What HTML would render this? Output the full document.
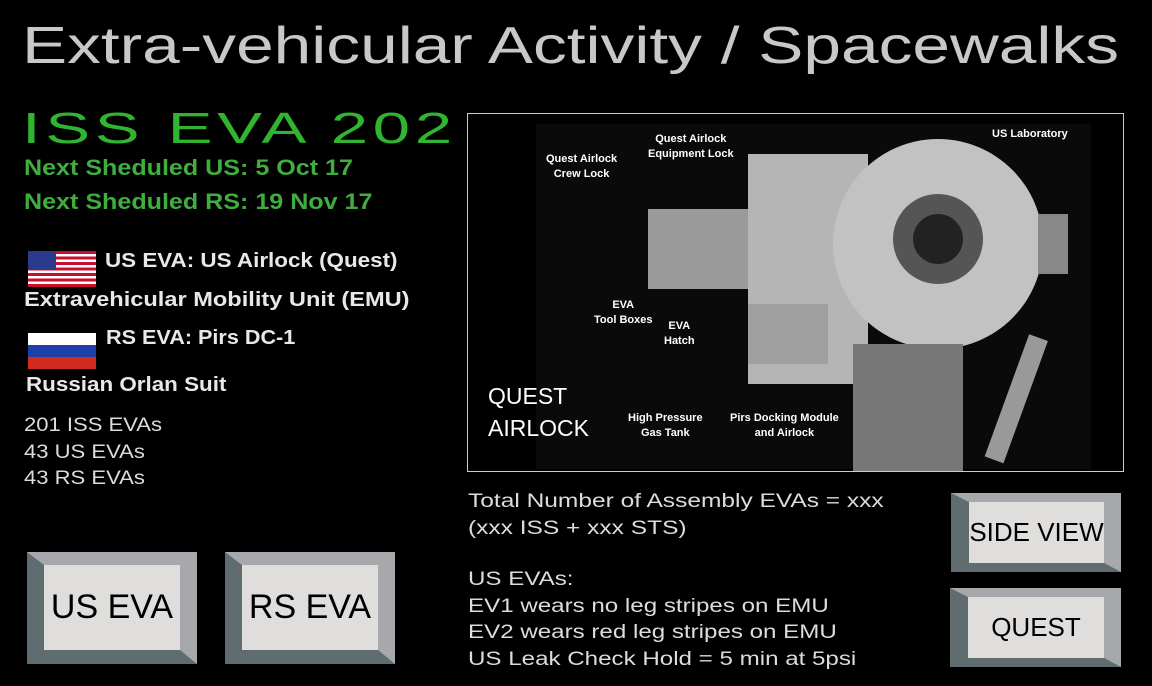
<!DOCTYPE html>
<html><head><meta charset="utf-8"><style>
body{margin:0;width:1152px;height:686px;background:#000;overflow:hidden;position:relative;font-family:"Liberation Sans",sans-serif}
.a{position:absolute;white-space:nowrap;transform-origin:0 0}
.btn{position:absolute;box-sizing:border-box;background:#e0dedc;border-style:solid;border-color:#a6a8ab #a6a8ab #5f6c70 #5f6c70;display:flex;align-items:center;justify-content:center;color:#000}
.g{color:#3fae3f;font-weight:bold;font-size:22px;transform:scaleX(1.14)}
.w{color:#e8e8e8;font-weight:bold;font-size:20px}
.t{color:#dcdcdc;font-size:19px}
.lbl{position:absolute;color:#fff;font-size:11px;font-weight:bold;text-align:center;line-height:15px}
</style></head><body>
<div class="a" style="left:22px;top:16px;font-size:52px;color:#c8c8c8;transform:scaleX(1.3)">Extra-vehicular Activity / Spacewalks</div>
<div class="a" style="left:22px;top:104px;font-size:44px;color:#2fb52f;letter-spacing:3px;transform:scaleX(1.53)">ISS EVA 202</div>
<div class="a g" style="left:24px;top:155px">Next Sheduled US: 5 Oct 17</div>
<div class="a g" style="left:24px;top:189px">Next Sheduled RS: 19 Nov 17</div>
<svg class="a" style="left:28px;top:251px" width="68" height="36" viewBox="0 0 68 36">
<rect width="68" height="36" fill="#fff"/>
<g fill="#c8102e"><rect y="0" width="68" height="3"/><rect y="5.5" width="68" height="3"/><rect y="11" width="68" height="3"/><rect y="16.5" width="68" height="3"/><rect y="22" width="68" height="3"/><rect y="27.5" width="68" height="3"/><rect y="33" width="68" height="3"/></g>
<rect width="28" height="19" fill="#2b3a8c"/></svg>
<div class="a w" style="left:105px;top:250px;transform:scaleX(1.12)">US EVA: US Airlock (Quest)</div>
<div class="a w" style="left:24px;top:289px;transform:scaleX(1.18)">Extravehicular Mobility Unit (EMU)</div>
<svg class="a" style="left:28px;top:333px" width="68" height="36"><rect width="68" height="12" fill="#fff"/><rect y="12" width="68" height="12" fill="#1c3fa8"/><rect y="24" width="68" height="12" fill="#d52b1e"/></svg>
<div class="a w" style="left:106px;top:327px;transform:scaleX(1.08)">RS EVA: Pirs DC-1</div>
<div class="a w" style="left:26px;top:374px;transform:scaleX(1.12)">Russian Orlan Suit</div>
<div class="a t" style="left:24px;top:413px;line-height:26.5px;transform:scaleX(1.16)">201 ISS EVAs<br>43 US EVAs<br>43 RS EVAs</div>

<div class="a" style="left:467px;top:113px;width:655px;height:357px;border:1px solid #ccc;overflow:hidden">
<svg width="655" height="357">
<rect x="68" y="10" width="555" height="345" fill="#0a0a0a"/>
<rect x="180" y="95" width="105" height="80" fill="#9a9a9a"/>
<rect x="280" y="40" width="120" height="230" fill="#b5b5b5"/>
<circle cx="470" cy="130" r="105" fill="#c2c2c2"/>
<circle cx="470" cy="125" r="45" fill="#555"/>
<circle cx="470" cy="125" r="25" fill="#222"/>
<rect x="280" y="190" width="80" height="60" fill="#a0a0a0"/>
<rect x="385" y="230" width="110" height="127" fill="#777"/>
<rect x="570" y="100" width="30" height="60" fill="#888"/>
<rect x="540" y="220" width="20" height="130" fill="#999" transform="rotate(20 550 280)"/>
</svg>
<div class="lbl" style="left:78px;top:38px">Quest Airlock<br>Crew Lock</div>
<div class="lbl" style="left:180px;top:18px">Quest Airlock<br>Equipment Lock</div>
<div class="lbl" style="left:524px;top:13px">US Laboratory</div>
<div class="lbl" style="left:126px;top:184px">EVA<br>Tool Boxes</div>
<div class="lbl" style="left:196px;top:205px">EVA<br>Hatch</div>
<div class="lbl" style="left:160px;top:297px">High Pressure<br>Gas Tank</div>
<div class="lbl" style="left:262px;top:297px">Pirs Docking Module<br>and Airlock</div>
<div class="a" style="left:20px;top:266px;color:#fff;font-size:23px;line-height:32px">QUEST<br>AIRLOCK</div>
</div>

<div class="a t" style="left:468px;top:488px;line-height:27px;transform:scaleX(1.29)">Total Number of Assembly EVAs = xxx<br>(xxx ISS + xxx STS)</div>
<div class="a t" style="left:468px;top:567px;line-height:26.5px;transform:scaleX(1.27)">US EVAs:<br>EV1 wears no leg stripes on EMU<br>EV2 wears red leg stripes on EMU<br>US Leak Check Hold = 5 min at 5psi</div>

<div class="btn" style="left:27px;top:552px;width:170px;height:112px;border-width:13px 17px 14px 17px;font-size:34px">US EVA</div>
<div class="btn" style="left:225px;top:552px;width:170px;height:112px;border-width:13px 17px 14px 17px;font-size:34px">RS EVA</div>
<div class="btn" style="left:951px;top:493px;width:170px;height:79px;border-width:9px 17px 9px 18px;font-size:26px">SIDE VIEW</div>
<div class="btn" style="left:950px;top:588px;width:171px;height:79px;border-width:9px 17px 9px 18px;font-size:26px">QUEST</div>
</body></html>
